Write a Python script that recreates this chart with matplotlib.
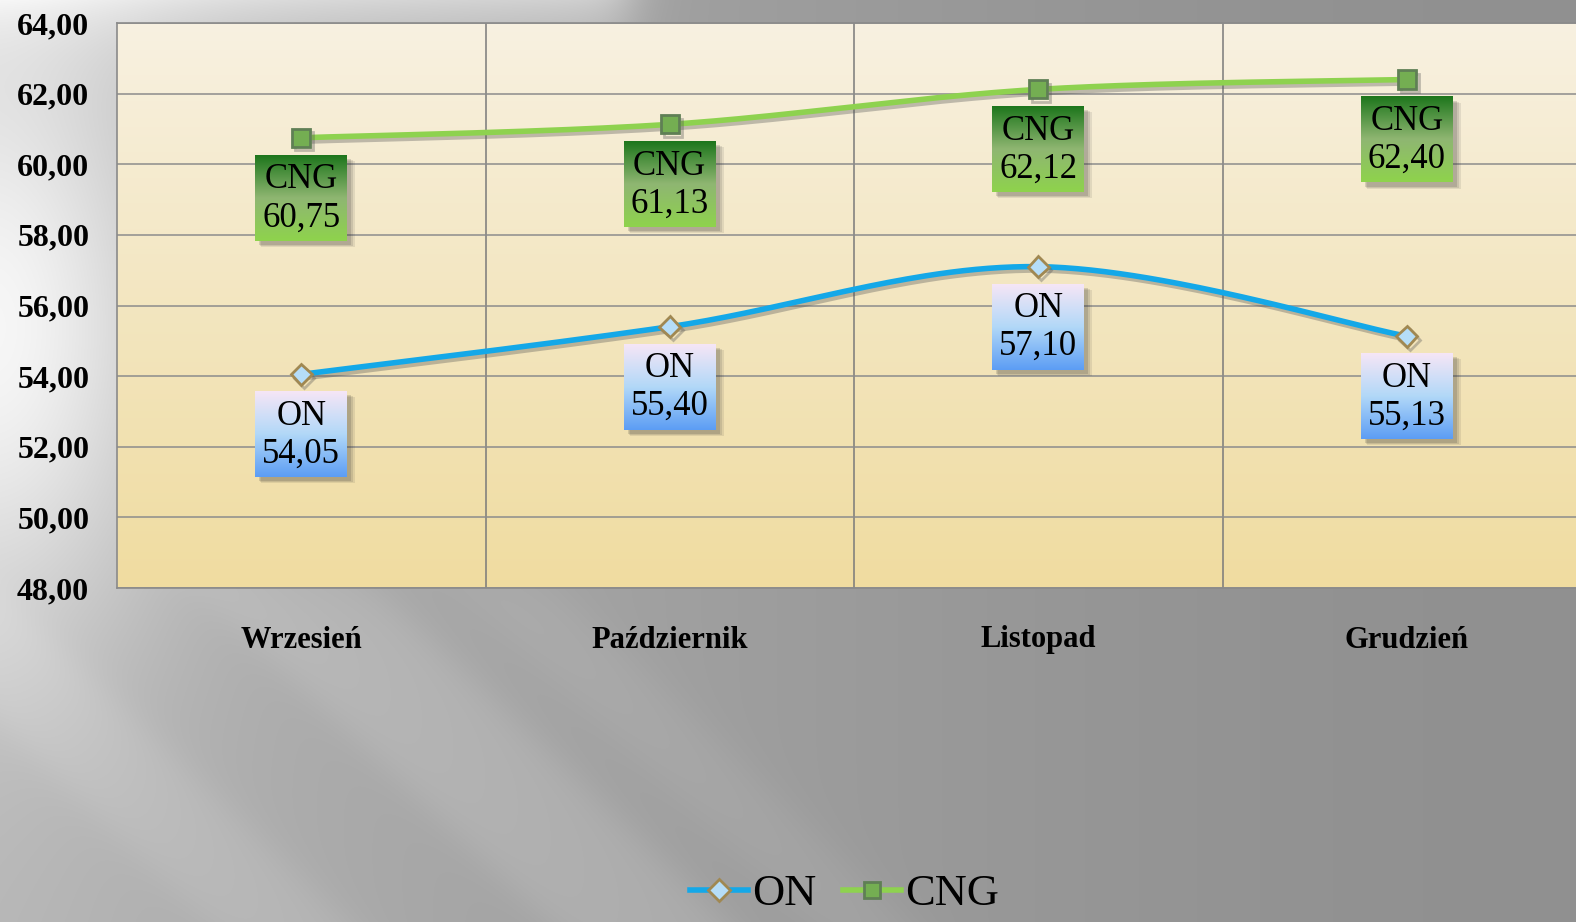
import numpy as np
import matplotlib
matplotlib.use('Agg')
import matplotlib.pyplot as plt
import matplotlib.patheffects as pe
from matplotlib.colors import LinearSegmentedColormap
from matplotlib.lines import Line2D
from matplotlib.patches import Rectangle

months = ['Wrzesień', 'Październik', 'Listopad', 'Grudzień']
on_vals = [54.05, 55.40, 57.10, 55.13]
cng_vals = [60.75, 61.13, 62.12, 62.40]
y_ticks = [48, 50, 52, 54, 56, 58, 60, 62, 64]

plt.rcParams['font.family'] = ['Liberation Serif', 'DejaVu Serif']

W, H = 1576, 922
fig = plt.figure(figsize=(W / 100, H / 100), dpi=100)

# grey background with light diagonal streaks
bg = fig.add_axes([0, 0, 1, 1], zorder=-10)
yy, xx = np.mgrid[0:H, 0:W].astype(float)
u = xx - 1.05 * yy
sig = lambda t: 1 / (1 + np.exp(-t))
band = lambda a, b: sig((u - a) / 15) * sig((b - u) / 15)
v = 0.565 + 0.15 * (1 - xx / W) ** 1.6
low = sig((yy - 570) / 25)
v += low * (0.05 * band(-420, -240) + 0.04 * band(-760, -620) + 0.03 * band(-160, -60))
v += 0.25 * np.exp(-((xx / 170) ** 2 + ((yy - 330) / 300) ** 2))
v += 0.18 * sig((630 - xx) / 15) * np.exp(-yy / 60)
v = np.clip(v, 0, 1)
bg.imshow(np.dstack([v, v, v]), aspect='auto', extent=[0, 1, 0, 1], origin='upper')
bg.set_xlim(0, 1)
bg.set_ylim(0, 1)
bg.axis('off')

ax_l, ax_b, ax_w, ax_h = 117 / W, 1 - 588 / H, 1474 / W, 565 / H
ax = fig.add_axes([ax_l, ax_b, ax_w, ax_h])
x0, x1, y0, y1 = -0.5, 3.5, 48, 64
pxx = ax_w * W / (x1 - x0)   # px per x unit
pxy = ax_h * H / (y1 - y0)   # px per y unit

area = LinearSegmentedColormap.from_list('area', ['#F8F1E1', '#F3E6C0', '#F0DCA0'])
ax.imshow(np.linspace(0, 1, 256).reshape(-1, 1), cmap=area, aspect='auto',
          extent=[x0, x1, y0, y1], origin='upper', zorder=0)

ax.set_yticks(y_ticks)
ax.set_yticklabels([f'{t:.2f}'.replace('.', ',') for t in y_ticks],
                   fontsize=23, fontweight='bold')
ax.set_xticks(range(len(months)))
ax.set_xticklabels(months, fontsize=22, fontweight='bold')
ax.set_xticks([0.5, 1.5, 2.5], minor=True)
ax.tick_params(axis='both', which='both', length=0)
ax.tick_params(axis='y', pad=20)
ax.tick_params(axis='x', pad=27)
ax.grid(axis='y', which='major', color='#8C8C8C', lw=1.1)
ax.grid(axis='x', which='minor', color='#7A7A7A', lw=1.1)
ax.set_axisbelow(True)
for s in ax.spines.values():
    s.set_color('#8A8A8A')
    s.set_linewidth(1.2)


def smooth(xs, ys, n=60):
    # Catmull-Rom style bezier through the points, in pixel space
    P = np.column_stack([np.array(xs) * pxx, np.array(ys) * pxy])
    P = np.vstack([P[0], P, P[-1]])
    out = []
    for i in range(1, len(P) - 2):
        p0, p1, p2, p3 = P[i - 1], P[i], P[i + 1], P[i + 2]
        c1 = p1 + (p2 - p0) / 6
        c2 = p2 - (p3 - p1) / 6
        t = np.linspace(0, 1, n)[:, None]
        seg = (1 - t) ** 3 * p1 + 3 * (1 - t) ** 2 * t * c1 + 3 * (1 - t) * t ** 2 * c2 + t ** 3 * p2
        out.append(seg)
    out = np.vstack(out)
    return out[:, 0] / pxx, out[:, 1] / pxy


xs = np.arange(len(months))
shadow = [pe.SimpleLineShadow(offset=(2, -2.5), alpha=0.35, shadow_color='#555555'), pe.Normal()]

sx, sy = smooth(xs, on_vals)
ax.plot(sx, sy, color='#14A8E8', lw=4, zorder=3, path_effects=shadow, solid_capstyle='round')
ax.plot(xs, on_vals, ls='none', marker='D', ms=10.5, mfc='#B5DDF8', mec='#A08852', mew=2,
        zorder=4, path_effects=shadow)

sx, sy = smooth(xs, cng_vals)
ax.plot(sx, sy, color='#8ED24F', lw=4, zorder=3, path_effects=shadow, solid_capstyle='round')
ax.plot(xs, cng_vals, ls='none', marker='s', ms=13, mfc='#74AE52', mec='#5F7F55', mew=2,
        zorder=4, path_effects=shadow)

on_cmap = LinearSegmentedColormap.from_list('onbox', ['#F6E6F6', '#B2D8F8', '#5C9DF4'])
cng_cmap = LinearSegmentedColormap.from_list('cngbox', ['#1D761C', '#8FB672', '#8ED34C'])

bw, bh, gap = 92 / pxx, 86 / pxy, 17 / pxy


def label_box(x, y, name, cmap):
    top = y - gap
    bot = top - bh
    for k, a in enumerate([0.10, 0.12, 0.16]):
        ax.add_patch(Rectangle((x - bw / 2 + 6 / pxx - k * 1 / pxx, bot - 6 / pxy + k / pxy),
                               bw + (2 - k) / pxx, bh, color='#303030', alpha=a, lw=0, zorder=5))
    ax.imshow(np.linspace(0, 1, 256).reshape(-1, 1), cmap=cmap, aspect='auto',
              extent=[x - bw / 2, x + bw / 2, bot, top], origin='upper', zorder=6)
    ax.text(x, top - 25 / pxy, name, ha='center', va='center', fontsize=25, zorder=7)
    ax.text(x, top - 63 / pxy, f'{y:.2f}'.replace('.', ','), ha='center', va='center',
            fontsize=25, zorder=7)


for x, y in zip(xs, on_vals):
    label_box(x, y, 'ON', on_cmap)
for x, y in zip(xs, cng_vals):
    label_box(x, y, 'CNG', cng_cmap)

ax.set_xlim(x0, x1)
ax.set_ylim(y0, y1)

handles = [
    Line2D([], [], color='#14A8E8', lw=4, marker='D', ms=11, mfc='#B5DDF8', mec='#A08852', mew=2),
    Line2D([], [], color='#8ED24F', lw=4, marker='s', ms=12, mfc='#74AE52', mec='#5F7F55', mew=2),
]
fig.legend(handles, ['ON', 'CNG'], loc='center', bbox_to_anchor=(0.536, 0.03), ncol=2,
           frameon=False, fontsize=32, handlelength=1.3, handletextpad=0.1, columnspacing=0.6,
           borderpad=0.1)

fig.savefig('out.png', dpi=100)
